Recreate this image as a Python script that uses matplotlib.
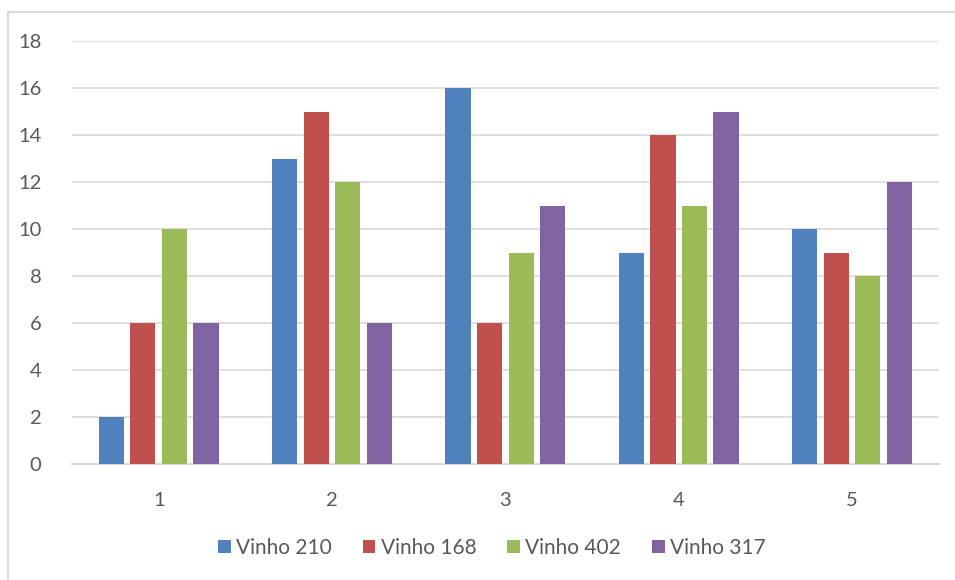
import matplotlib.pyplot as plt
import numpy as np
from matplotlib.patches import Rectangle

# dados por amostra
amostras = ['1', '2', '3', '4', '5']
vinho_210 = [2, 13, 16, 9, 10]
vinho_168 = [6, 15, 6, 14, 9]
vinho_402 = [10, 12, 9, 11, 8]
vinho_317 = [6, 6, 11, 15, 12]

series = [vinho_210, vinho_168, vinho_402, vinho_317]
nomes = ['Vinho 210', 'Vinho 168', 'Vinho 402', 'Vinho 317']
cores = ['#4F81BD', '#C0504D', '#9BBB59', '#8064A2']

plt.rcParams['font.family'] = ['Lato', 'DejaVu Sans']

fig = plt.figure(figsize=(9.55, 5.8), dpi=100)
ax = fig.add_axes([0.0754, 0.2, 0.9076, 0.729])

x = np.arange(len(amostras))
largura = 0.145
passo = 0.182
for i, (vals, nome, cor) in enumerate(zip(series, nomes, cores)):
    ax.bar(x + (i - 1.5) * passo, vals, largura, color=cor, label=nome, zorder=3)

ax.set_xlim(-0.5, len(amostras) - 0.5)
ax.set_ylim(0, 18)
ax.set_yticks(range(0, 19, 2))
ax.set_xticks(x)
ax.set_xticklabels(amostras)
ax.grid(axis='y', color='#D9D9D9', linewidth=1.2, zorder=0)
ax.tick_params(length=0, labelsize=14.5, colors='#595959')
ax.tick_params(axis='x', pad=20)
ax.tick_params(axis='y', pad=22)
for s in ['top', 'right', 'left']:
    ax.spines[s].set_visible(False)
ax.spines['bottom'].set_color('#D9D9D9')
ax.spines['bottom'].set_linewidth(1.5)

fig.legend(loc='center', bbox_to_anchor=(0.515, 0.055), ncol=4, frameon=False,
           fontsize=15, labelcolor='#595959', handlelength=0.6, handleheight=0.6,
           handletextpad=0.25, columnspacing=1.5)

# moldura do gráfico
fig.patches.append(Rectangle((8 / 955, -0.05), 1.0, 1 - 11.5 / 580 + 0.05,
                             transform=fig.transFigure, fill=False,
                             edgecolor='#D9D9D9', linewidth=1.5, clip_on=False))

fig.savefig('out.png', dpi=100)
